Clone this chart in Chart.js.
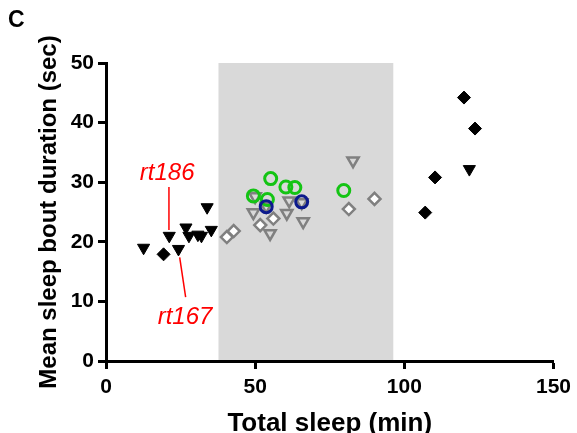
<!DOCTYPE html>
<html>
<head>
<meta charset="utf-8">
<script src="https://cdn.jsdelivr.net/npm/chart.js@4"></script>
<style>
  html, body { margin: 0; padding: 0; background: #fff; }
  #wrap { width: 577px; height: 433px; }
</style>
</head>
<body>
<div id="wrap"><canvas id="sleepChart" width="577" height="433"></canvas></div>
<script>
/* Mean sleep bout duration vs total sleep (panel C) */

// axis ticks
const xTicks = [0, 50, 100, 150];
const yTicks = [0, 10, 20, 30, 40, 50];

// shaded range of total sleep (min)
const bandRange = [37.7, 96.3];

// black filled inverted triangles
const blackTriX = [12.6, 21.2, 24.3, 26.8, 27.8, 30.8, 32.0, 35.3, 33.9, 121.8];
const blackTriY = [19.0, 21.0, 18.8, 22.4, 21.0, 21.2, 21.0, 22.0, 25.8, 32.2];

// black filled diamonds
const blackDiaX = [19.3, 107.0, 110.3, 120.0, 123.7];
const blackDiaY = [17.9, 24.9, 30.8, 44.2, 39.0];

// grey open diamonds
const greyDiaX = [40.5, 42.8, 51.7, 56.1, 81.4, 90.0];
const greyDiaY = [20.8, 21.8, 22.8, 23.9, 25.5, 27.2];

// grey open inverted triangles
const greyTriX = [50.0, 49.4, 53.7, 61.4, 60.6, 65.6, 66.1, 55.0, 82.8];
const greyTriY = [27.6, 24.9, 26.0, 26.9, 24.8, 26.6, 23.4, 21.4, 33.6];

// green open circles
const greenX = [55.2, 49.4, 54.1, 60.3, 63.3, 79.7];
const greenY = [30.6, 27.7, 27.1, 29.2, 29.1, 28.6];

// blue open circles
const blueX = [53.7, 65.6];
const blueY = [25.9, 26.7];

// labelled strains: [name, labelX, labelY, lineX1, lineY1, lineX2, lineY2]
const strainNotes = [
    ['rt186', 20.5, 31.5, 21.1, 29.2, 21.1, 22.0],
    ['rt167', 26.5, 7.4, 24.7, 17.4, 26.7, 10.7]
];

function toPoints(xs, ys) {
    return xs.map(function (x, i) { return { x: x, y: ys[i] }; });
}

const FONT = '"Liberation Sans", Arial, Helvetica, sans-serif';

// grey band behind the points
const bandPlugin = {
    id: 'band',
    beforeDatasetsDraw: function (chart) {
        const ctx = chart.ctx;
        const xs = chart.scales.x;
        const area = chart.chartArea;
        const x1 = xs.getPixelForValue(bandRange[0]);
        const x2 = xs.getPixelForValue(bandRange[1]);
        ctx.save();
        ctx.fillStyle = '#d9d9d9';
        ctx.fillRect(x1, area.top, x2 - x1, area.bottom - area.top - 1);
        ctx.restore();
    }
};

// red strain labels, panel letter
const notesPlugin = {
    id: 'notes',
    afterDatasetsDraw: function (chart) {
        const ctx = chart.ctx;
        const xs = chart.scales.x;
        const ys = chart.scales.y;
        ctx.save();
        strainNotes.forEach(function (n) {
            ctx.strokeStyle = '#ff0000';
            ctx.lineWidth = 1.5;
            ctx.beginPath();
            ctx.moveTo(xs.getPixelForValue(n[3]), ys.getPixelForValue(n[4]));
            ctx.lineTo(xs.getPixelForValue(n[5]), ys.getPixelForValue(n[6]));
            ctx.stroke();
            ctx.fillStyle = '#ff0000';
            ctx.font = 'italic 24px ' + FONT;
            ctx.textAlign = 'center';
            ctx.textBaseline = 'middle';
            ctx.fillText(n[0], xs.getPixelForValue(n[1]), ys.getPixelForValue(n[2]));
        });
        ctx.fillStyle = '#000';
        ctx.font = 'bold 23px ' + FONT;
        ctx.textAlign = 'left';
        ctx.textBaseline = 'middle';
        ctx.fillText('C', 8, 21);
        ctx.restore();
    }
};

const ctx = document.getElementById('sleepChart').getContext('2d');
const chart = new Chart(ctx, {
    type: 'scatter',
    data: {
        datasets: [
            {
                label: 'blue',
                data: toPoints(blueX, blueY),
                pointStyle: 'circle',
                pointRadius: 6,
                backgroundColor: 'rgba(0,0,0,0)',
                borderColor: '#0c1a8c',
                borderWidth: 3
            },
            {
                label: 'green',
                data: toPoints(greenX, greenY),
                pointStyle: 'circle',
                pointRadius: 6,
                backgroundColor: 'rgba(0,0,0,0)',
                borderColor: '#14c414',
                borderWidth: 3
            },
            {
                label: 'grey diamonds',
                data: toPoints(greyDiaX, greyDiaY),
                pointStyle: 'rectRot',
                pointRadius: 6,
                backgroundColor: '#ffffff',
                borderColor: '#808080',
                borderWidth: 2.5
            },
            {
                label: 'grey triangles',
                data: toPoints(greyTriX, greyTriY),
                pointStyle: 'triangle',
                rotation: 180,
                pointRadius: 6.5,
                backgroundColor: 'rgba(0,0,0,0)',
                borderColor: '#808080',
                borderWidth: 2.5
            },
            {
                label: 'black diamonds',
                data: toPoints(blackDiaX, blackDiaY),
                pointStyle: 'rectRot',
                pointRadius: 6.5,
                backgroundColor: '#000',
                borderColor: '#000',
                borderWidth: 1
            },
            {
                label: 'black triangles',
                data: toPoints(blackTriX, blackTriY),
                pointStyle: 'triangle',
                rotation: 180,
                pointRadius: 7,
                backgroundColor: '#000',
                borderColor: '#000',
                borderWidth: 1
            }
        ]
    },
    options: {
        responsive: false,
        animation: false,
        layout: { padding: { left: 0, right: 21, top: 63, bottom: 0 } },
        plugins: {
            legend: { display: false },
            tooltip: { enabled: false }
        },
        scales: {
            x: {
                type: 'linear',
                min: 0,
                max: 150,
                afterBuildTicks: function (scale) {
                    scale.ticks = xTicks.map(function (v) { return { value: v }; });
                },
                afterFit: function (scale) { scale.height = 72; },
                border: { color: '#000', width: 3 },
                grid: { drawOnChartArea: false, tickLength: 8, tickColor: '#000', tickWidth: 3 },
                ticks: {
                    color: '#000',
                    padding: 6,
                    maxRotation: 0,
                    font: { family: FONT, size: 21, weight: 'bold' }
                },
                title: {
                    display: true,
                    text: 'Total sleep (min)',
                    color: '#000',
                    padding: { top: 0, bottom: -4 },
                    font: { family: FONT, size: 26, weight: 'bold', lineHeight: 1 }
                }
            },
            y: {
                type: 'linear',
                min: 0,
                max: 50,
                afterBuildTicks: function (scale) {
                    scale.ticks = yTicks.map(function (v) { return { value: v }; });
                },
                afterFit: function (scale) { scale.width = 106; },
                border: { color: '#000', width: 3 },
                grid: { drawOnChartArea: false, tickLength: 8, tickColor: '#000', tickWidth: 3 },
                ticks: {
                    color: '#000',
                    padding: 4,
                    font: { family: FONT, size: 21, weight: 'bold' }
                },
                title: {
                    display: true,
                    text: 'Mean sleep bout duration (sec)',
                    color: '#000',
                    padding: { top: 35, bottom: 0 },
                    font: { family: FONT, size: 24, weight: 'bold' }
                }
            }
        }
    },
    plugins: [bandPlugin, notesPlugin]
});
</script>
</body>
</html>
